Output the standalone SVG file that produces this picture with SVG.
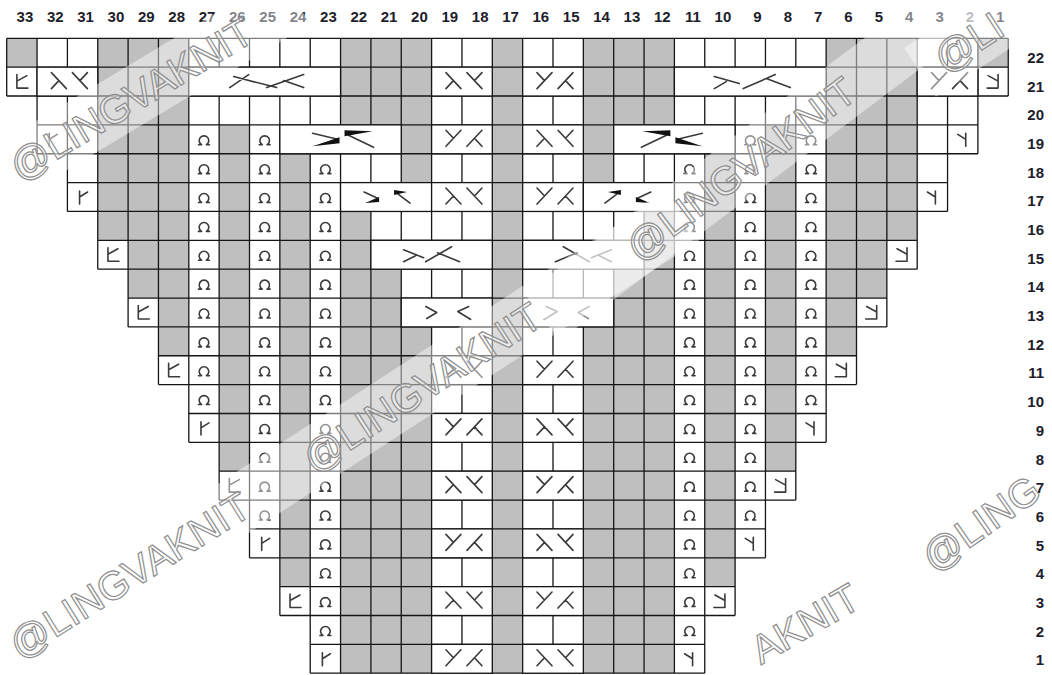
<svg xmlns="http://www.w3.org/2000/svg" width="1052" height="675" viewBox="0 0 1052 675">
<style>
.g{fill:#bfbfbf}
.ln{fill:none;stroke:#151515;stroke-width:1.3}
.m{fill:#fff;stroke:#151515;stroke-width:1.3}
.s{fill:none;stroke:#3a3a3a;stroke-width:1.6;stroke-linecap:round;stroke-linejoin:round}
.k{fill:#111}
.cl{font-family:"Liberation Sans",Arial,sans-serif;font-size:15px;font-weight:bold;fill:#1d1d2b;text-anchor:end}
.wm text{font-family:"Liberation Sans",Arial,sans-serif;font-size:40px;fill:#fff;fill-opacity:.4;stroke:#8e8e8e;stroke-width:1.2}
.band{fill:#fff;opacity:.45}
</style>
<defs>
<path id="tw" class="s" d="M-5.5,5.5H-2.4A4.8,4.8 0 1 1 2.4,5.5H5.5"/>
<path id="eL" class="s" d="M-5,-7V6.5H6M-5,-0.5L5,-6"/>
<path id="eR" class="s" d="M5,-7V6.5H-6M5,-0.5L-5,-6"/>
<path id="rL" class="s" d="M-3,-6V7M-3,0L5,-5"/>
<path id="rR" class="s" d="M3,-6V7M3,0L-5,-5"/>
<path id="cA" class="s" d="M-16,-9L-1,7M-16,7L-8.5,-1M5,-9L20,7M20,-9L12.5,-1"/>
<path id="cB" class="s" d="M-1,-9L-16,7M-16,-9L-8.5,-1M20,-9L5,7M12.5,-1L20,7"/>
<path id="c5L" class="s" d="M-35,6L-16,-7M-31,-5L12,6M2,6L39,-7M19,-1L39,6"/>
<path id="c5R" class="s" d="M-36,-5L-11,2M-36,7L-24,0M-7,7L25,-7M16,-3L40,6"/>
<path id="c4L" class="s" d="M-28,-5L-8,3M-28,7L-16,1M-6,7L20,-8M6,-2L28,7"/>
<g id="d19"><path class="s" d="M-28,-6L-3,0M8,-4L33,8"/><path class="k" d="M-28,7L-1,-2V4ZM4,-9V-3L32,-8Z"/></g>
<g id="d17"><path class="s" d="M-22,-5L-9,1M12,-3L24,6"/><path class="k" d="M-21,6L-7,0V5ZM8,-7V-2L21,-5Z"/></g>
<path id="d13" class="s" d="M-21,-6L-10,0L-20,6M22,-6L11,-1L24,7"/>
<g id="t10"><use href="#tw" y="139.31"/><use href="#tw" y="168.17"/><use href="#tw" y="197.03"/><use href="#tw" y="225.89"/><use href="#tw" y="254.75"/><use href="#tw" y="283.61"/><use href="#tw" y="312.47"/><use href="#tw" y="341.33"/><use href="#tw" y="370.19"/><use href="#tw" y="399.05"/></g>
<g id="t14"><use href="#t10"/><use href="#tw" y="427.91"/><use href="#tw" y="456.77"/><use href="#tw" y="485.63"/><use href="#tw" y="514.49"/></g>
<g id="t17"><use href="#tw" y="168.17"/><use href="#tw" y="197.03"/><use href="#tw" y="225.89"/><use href="#tw" y="254.75"/><use href="#tw" y="283.61"/><use href="#tw" y="312.47"/><use href="#tw" y="341.33"/><use href="#tw" y="370.19"/><use href="#tw" y="399.05"/><use href="#tw" y="427.91"/><use href="#tw" y="456.77"/><use href="#tw" y="485.63"/><use href="#tw" y="514.49"/><use href="#tw" y="543.35"/><use href="#tw" y="572.21"/><use href="#tw" y="601.07"/><use href="#tw" y="629.93"/></g>
</defs>

<g id="shade" class="g">
<rect x="6.7" y="38.3" width="30.35" height="28.86"/>
<rect x="977.9" y="38.3" width="30.35" height="28.86"/>
<rect x="97.75" y="38.3" width="30.35" height="202.02"/>
<rect x="128.1" y="38.3" width="30.35" height="259.74"/>
<rect x="158.45" y="38.3" width="30.35" height="317.46"/>
<rect x="886.85" y="38.3" width="30.35" height="202.02"/>
<rect x="856.5" y="38.3" width="30.35" height="259.74"/>
<rect x="826.15" y="38.3" width="30.35" height="317.46"/>
<rect x="219.15" y="124.88" width="30.35" height="346.32"/>
<rect x="765.45" y="124.88" width="30.35" height="346.32"/>
<rect x="279.85" y="153.74" width="30.35" height="432.9"/>
<rect x="704.75" y="153.74" width="30.35" height="432.9"/>
<rect x="340.55" y="38.3" width="91.05" height="86.58"/>
<rect x="583.35" y="38.3" width="91.05" height="86.58"/>
<rect x="401.25" y="124.88" width="30.35" height="57.72"/>
<rect x="583.35" y="124.88" width="30.35" height="57.72"/>
<rect x="340.55" y="211.46" width="30.35" height="461.76"/>
<rect x="370.9" y="269.18" width="30.35" height="404.04"/>
<rect x="401.25" y="326.9" width="30.35" height="346.32"/>
<rect x="644.05" y="211.46" width="30.35" height="461.76"/>
<rect x="613.7" y="269.18" width="30.35" height="404.04"/>
<rect x="583.35" y="326.9" width="30.35" height="346.32"/>
<rect x="492.3" y="38.3" width="30.35" height="634.92"/>
</g>

<path id="grid" class="ln" d="M6.7 38.3V96.02M37.05 38.3V153.74M67.4 38.3V211.46M97.75 38.3V269.18M128.1 38.3V326.9M158.45 38.3V384.62M188.8 38.3V442.34M219.15 38.3V500.06M249.5 38.3V557.78M279.85 38.3V615.5M310.2 38.3V673.22M340.55 38.3V673.22M370.9 38.3V673.22M401.25 38.3V673.22M431.6 38.3V673.22M461.95 38.3V673.22M492.3 38.3V673.22M522.65 38.3V673.22M553 38.3V673.22M583.35 38.3V673.22M613.7 38.3V673.22M644.05 38.3V673.22M674.4 38.3V673.22M704.75 38.3V673.22M735.1 38.3V615.5M765.45 38.3V557.78M795.8 38.3V500.06M826.15 38.3V442.34M856.5 38.3V384.62M886.85 38.3V326.9M917.2 38.3V269.18M947.55 38.3V211.46M977.9 38.3V153.74M1008.25 38.3V96.02M6.7 38.3H1008.25M6.7 67.16H1008.25M6.7 96.02H1008.25M37.05 124.88H977.9M37.05 153.74H977.9M67.4 182.6H947.55M67.4 211.46H947.55M97.75 240.32H917.2M97.75 269.18H917.2M128.1 298.04H886.85M128.1 326.9H886.85M158.45 355.76H856.5M158.45 384.62H856.5M188.8 413.48H826.15M188.8 442.34H826.15M219.15 471.2H795.8M219.15 500.06H795.8M249.5 528.92H765.45M249.5 557.78H765.45M279.85 586.64H735.1M279.85 615.5H735.1M310.2 644.36H704.75M310.2 673.22H704.75"/>

<g id="merged" class="m">
<rect x="37.05" y="67.16" width="60.7" height="28.86"/>
<rect x="188.8" y="67.16" width="151.75" height="28.86"/>
<rect x="431.6" y="67.16" width="60.7" height="28.86"/>
<rect x="522.65" y="67.16" width="60.7" height="28.86"/>
<rect x="674.4" y="67.16" width="151.75" height="28.86"/>
<rect x="917.2" y="67.16" width="60.7" height="28.86"/>
<rect x="279.85" y="124.88" width="121.4" height="28.86"/>
<rect x="431.6" y="124.88" width="60.7" height="28.86"/>
<rect x="522.65" y="124.88" width="60.7" height="28.86"/>
<rect x="613.7" y="124.88" width="121.4" height="28.86"/>
<rect x="340.55" y="182.6" width="91.05" height="28.86"/>
<rect x="431.6" y="182.6" width="60.7" height="28.86"/>
<rect x="522.65" y="182.6" width="60.7" height="28.86"/>
<rect x="583.35" y="182.6" width="91.05" height="28.86"/>
<rect x="370.9" y="240.32" width="121.4" height="28.86"/>
<rect x="522.65" y="240.32" width="121.4" height="28.86"/>
<rect x="401.25" y="298.04" width="91.05" height="28.86"/>
<rect x="522.65" y="298.04" width="91.05" height="28.86"/>
<rect x="431.6" y="355.76" width="60.7" height="28.86"/>
<rect x="522.65" y="355.76" width="60.7" height="28.86"/>
<rect x="431.6" y="413.48" width="60.7" height="28.86"/>
<rect x="522.65" y="413.48" width="60.7" height="28.86"/>
<rect x="431.6" y="471.2" width="60.7" height="28.86"/>
<rect x="522.65" y="471.2" width="60.7" height="28.86"/>
<rect x="431.6" y="528.92" width="60.7" height="28.86"/>
<rect x="522.65" y="528.92" width="60.7" height="28.86"/>
<rect x="431.6" y="586.64" width="60.7" height="28.86"/>
<rect x="522.65" y="586.64" width="60.7" height="28.86"/>
<rect x="431.6" y="644.36" width="60.7" height="28.86"/>
<rect x="522.65" y="644.36" width="60.7" height="28.86"/>
</g>

<g id="symbols">
<use href="#t10" x="203.98"/><use href="#t10" x="810.98"/>
<use href="#t14" x="264.68"/><use href="#t14" x="750.28"/>
<use href="#t17" x="325.38"/><use href="#t17" x="689.58"/>
<use href="#eL" x="21.88" y="81.59"/><use href="#eL" x="112.93" y="254.75"/><use href="#eL" x="143.28" y="312.47"/><use href="#eL" x="173.63" y="370.19"/><use href="#eL" x="234.33" y="485.63"/><use href="#eL" x="295.03" y="601.07"/>
<use href="#eR" x="993.08" y="81.59"/><use href="#eR" x="902.03" y="254.75"/><use href="#eR" x="871.68" y="312.47"/><use href="#eR" x="841.33" y="370.19"/><use href="#eR" x="780.63" y="485.63"/><use href="#eR" x="719.93" y="601.07"/>
<use href="#rL" x="52.23" y="139.31"/><use href="#rL" x="82.58" y="197.03"/><use href="#rL" x="203.98" y="427.91"/><use href="#rL" x="264.68" y="543.35"/><use href="#rL" x="325.38" y="658.79"/>
<use href="#rR" x="962.73" y="139.31"/><use href="#rR" x="932.38" y="197.03"/><use href="#rR" x="810.98" y="427.91"/><use href="#rR" x="750.28" y="543.35"/><use href="#rR" x="689.58" y="658.79"/>
<use href="#cA" x="67.4" y="81.59"/><use href="#cB" x="947.55" y="81.59"/>
<use href="#cA" x="461.95" y="81.59"/><use href="#cB" x="553" y="81.59"/>
<use href="#cB" x="461.95" y="139.31"/><use href="#cA" x="553" y="139.31"/>
<use href="#cA" x="461.95" y="197.03"/><use href="#cB" x="553" y="197.03"/>
<use href="#cA" x="461.95" y="370.19"/><use href="#cB" x="553" y="370.19"/>
<use href="#cB" x="461.95" y="427.91"/><use href="#cA" x="553" y="427.91"/>
<use href="#cA" x="461.95" y="485.63"/><use href="#cB" x="553" y="485.63"/>
<use href="#cB" x="461.95" y="543.35"/><use href="#cA" x="553" y="543.35"/>
<use href="#cA" x="461.95" y="601.07"/><use href="#cB" x="553" y="601.07"/>
<use href="#cB" x="461.95" y="658.79"/><use href="#cA" x="553" y="658.79"/>
<use href="#c5L" x="264.68" y="81.59"/><use href="#c5R" x="750.28" y="81.59"/>
<use href="#c4L" x="431.6" y="254.75"/><use href="#c4L" transform="translate(583.35,254.75) scale(-1,1)"/>
<use href="#d19" x="340.55" y="139.31"/><use href="#d19" transform="translate(674.4,139.31) scale(-1,1)"/>
<use href="#d17" x="386.08" y="197.03"/><use href="#d17" transform="translate(628.88,197.03) scale(-1,1)"/>
<use href="#d13" x="446.78" y="312.47"/><use href="#d13" transform="translate(568.18,312.47) scale(-1,1)"/>
</g>

<g id="col-labels" class="cl">
<text x="33.25" y="21.7">33</text><text x="63.6" y="21.7">32</text><text x="93.95" y="21.7">31</text><text x="124.3" y="21.7">30</text><text x="154.65" y="21.7">29</text><text x="185" y="21.7">28</text><text x="215.35" y="21.7">27</text><text x="245.7" y="21.7">26</text><text x="276.05" y="21.7">25</text><text x="306.4" y="21.7">24</text><text x="336.75" y="21.7">23</text><text x="367.1" y="21.7">22</text><text x="397.45" y="21.7">21</text><text x="427.8" y="21.7">20</text><text x="458.15" y="21.7">19</text><text x="488.5" y="21.7">18</text><text x="518.85" y="21.7">17</text><text x="549.2" y="21.7">16</text><text x="579.55" y="21.7">15</text><text x="609.9" y="21.7">14</text><text x="640.25" y="21.7">13</text><text x="670.6" y="21.7">12</text><text x="700.95" y="21.7">11</text><text x="731.3" y="21.7">10</text><text x="761.65" y="21.7">9</text><text x="792" y="21.7">8</text><text x="822.35" y="21.7">7</text><text x="852.7" y="21.7">6</text><text x="883.05" y="21.7">5</text><text x="913.4" y="21.7">4</text><text x="943.75" y="21.7">3</text><text x="974.1" y="21.7">2</text><text x="1004.45" y="21.7">1</text>
</g>
<g id="row-labels" class="cl">
<text x="1044" y="62.9">22</text><text x="1044" y="91.59">21</text><text x="1044" y="120.28">20</text><text x="1044" y="148.97">19</text><text x="1044" y="177.66">18</text><text x="1044" y="206.35">17</text><text x="1044" y="235.04">16</text><text x="1044" y="263.73">15</text><text x="1044" y="292.42">14</text><text x="1044" y="321.11">13</text><text x="1044" y="349.8">12</text><text x="1044" y="378.49">11</text><text x="1044" y="407.18">10</text><text x="1044" y="435.87">9</text><text x="1044" y="464.56">8</text><text x="1044" y="493.25">7</text><text x="1044" y="521.94">6</text><text x="1044" y="550.63">5</text><text x="1044" y="579.32">4</text><text x="1044" y="608.01">3</text><text x="1044" y="636.7">2</text><text x="1044" y="665.39">1</text>
</g>

<g id="watermarks" class="wm">
<g transform="translate(20,182) rotate(-31)"><rect class="band" x="-60" y="-44" width="390" height="58"/><text>@LINGVAKNIT</text></g>
<g transform="translate(314,474) rotate(-33)"><rect class="band" x="-110" y="-44" width="560" height="58"/><text>@LINGVAKNIT</text></g>
<g transform="translate(639,263) rotate(-37)"><rect class="band" x="-110" y="-44" width="550" height="58"/><text>@LINGVAKNIT</text></g>
<g transform="translate(945,74) rotate(-33)"><rect class="band" x="-20" y="-44" width="120" height="58"/><text>@LI</text></g>
<g transform="translate(20,660) rotate(-32)"><text>@LINGVAKNIT</text></g>
<g transform="translate(761,665) rotate(-30)"><text>AKNIT</text></g>
<g transform="translate(934,573) rotate(-35)"><text>@LING</text></g>
</g>
</svg>
